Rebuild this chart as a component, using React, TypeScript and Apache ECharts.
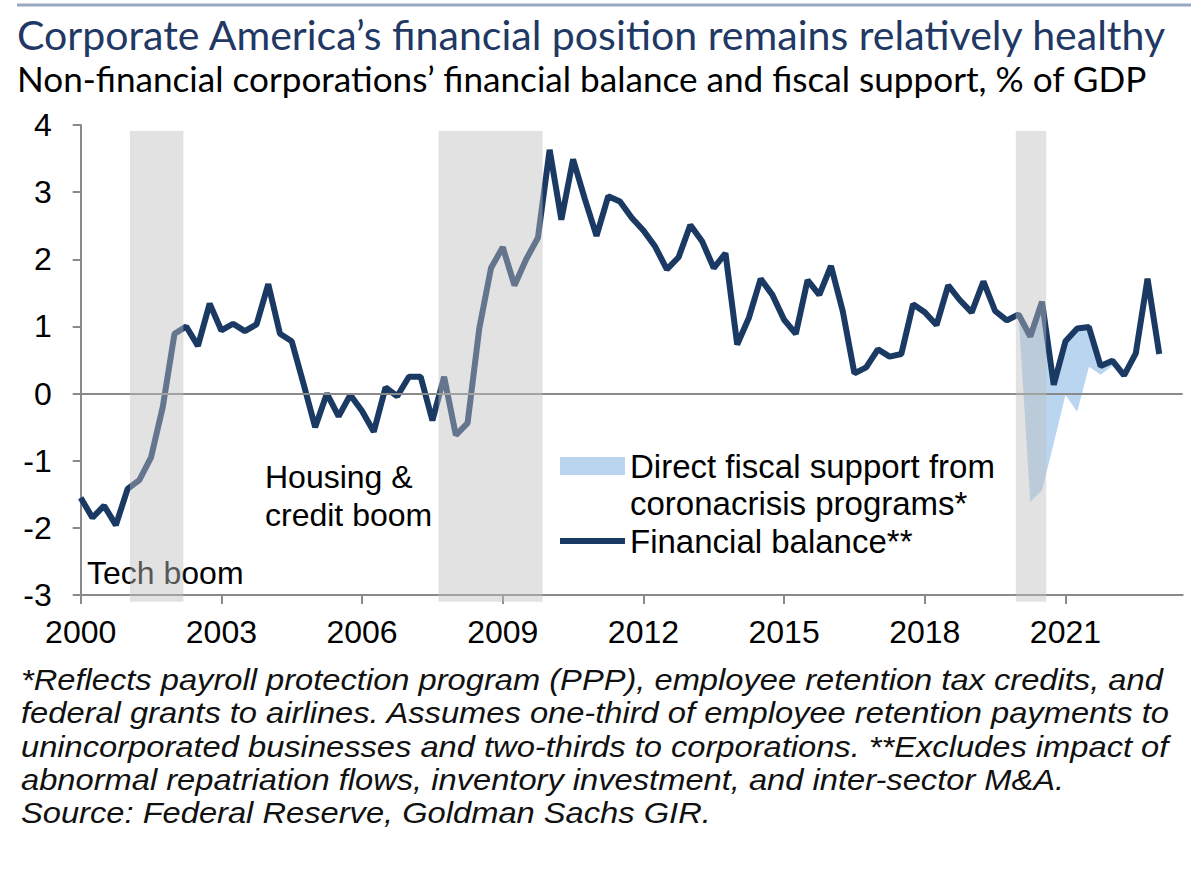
import React, { useEffect, useRef } from "react";
import * as echarts from "echarts";

// ---------- DATA ----------
const START_YEAR = 2000; // first observation: 2000Q1, quarterly
const financialBalance: number[] = [
  -1.55, -1.85, -1.67, -1.96, -1.42, -1.29, -0.95, -0.2, // 2000-2001
  0.89, 1.0, 0.71, 1.34, 0.94, 1.04, 0.93, 1.03, // 2002-2003
  1.63, 0.89, 0.78, 0.15, -0.5, 0.0, -0.34, -0.02, // 2004-2005
  -0.26, -0.57, 0.09, -0.04, 0.25, 0.25, -0.4, 0.25, // 2006-2007
  -0.62, -0.44, 0.97, 1.87, 2.18, 1.61, 2.0, 2.32, // 2008-2009
  3.63, 2.59, 3.49, 2.9, 2.35, 2.94, 2.86, 2.62, // 2010-2011
  2.43, 2.19, 1.85, 2.03, 2.51, 2.27, 1.87, 2.09, // 2012-2013
  0.73, 1.13, 1.71, 1.47, 1.1, 0.89, 1.69, 1.47, // 2014-2015
  1.9, 1.23, 0.3, 0.39, 0.66, 0.55, 0.59, 1.33, // 2016-2017
  1.21, 1.02, 1.61, 1.39, 1.21, 1.67, 1.23, 1.09, // 2018-2019
  1.18, 0.85, 1.37, 0.13, 0.78, 0.97, 0.99, 0.41, // 2020-2021
  0.49, 0.27, 0.6, 1.71, 0.59, // 2022-2023Q1
];

const FISCAL_START_YEAR = 2020; // 2020Q1
const fiscalSupport: number[] = [0, 2.46, 2.81, 0.87, 0.8, 1.24, 0.59, 0.13, 0.08, 0];

const recessionStarts: number[] = [2001.05, 2007.63, 2019.94];
const recessionEnds: number[] = [2002.19, 2009.85, 2020.59];
const RECESSION_TOP = 3.91;
const RECESSION_BOTTOM = -3.1;

const yearTicks: number[] = [2000, 2003, 2006, 2009, 2012, 2015, 2018, 2021];
const X_MIN = 2000;
const X_MAX = 2023.5;
const Y_MIN = -3;
const Y_MAX = 4;

const TITLE = "Corporate America\u2019s financial position remains relatively healthy";
const SUBTITLE = "Non-financial corporations\u2019 financial balance and fiscal support, % of GDP";
const FISCAL_NAME = "Direct fiscal support from\ncoronacrisis programs*";
const BALANCE_NAME = "Financial balance**";
const footnoteLines: string[] = [
  "*Reflects payroll protection program (PPP), employee retention tax credits, and",
  "federal grants to airlines. Assumes one-third of employee retention payments to",
  "unincorporated businesses and two-thirds to corporations. **Excludes impact of",
  "abnormal repatriation flows, inventory investment, and inter-sector M&A.",
  "Source: Federal Reserve, Goldman Sachs GIR.",
];

// ---------- STYLE ----------
const NAVY = "#1A3A64";
const TITLE_BLUE = "#1F3864";
const FISCAL_BLUE = "#B9D5EF";
const AXIS_GRAY = "#8A8A8A";
const SHADE = "rgba(190,190,190,0.45)";
const ARIAL = '"Liberation Sans", Arial, Helvetica, sans-serif';
const HEAD_FONT = 'Lato, "Open Sans", sans-serif';
const FOOT_SIZE = 29;

function fitSize(text: string, font: string, target: number): number {
  const ctx = document.createElement("canvas").getContext("2d");
  if (!ctx) return 30;
  ctx.font = font.replace("SIZE", "100px");
  const w = ctx.measureText(text).width;
  return w > 0 ? (100 * target) / w : 30;
}

const qx = (i: number) => START_YEAR + i / 4;

export default function App() {
  const ref = useRef<HTMLDivElement>(null);

  useEffect(() => {
    if (!ref.current) return;
    const chart = echarts.init(ref.current, null, { renderer: "svg" });

    const titleSize = fitSize(TITLE, `SIZE ${HEAD_FONT}`, 1151);
    const subSize = fitSize(SUBTITLE, `SIZE ${HEAD_FONT}`, 1131);
    const footFit = fitSize(footnoteLines[1], `italic SIZE ${ARIAL}`, 1150);
    const footScaleX = footFit / FOOT_SIZE;

    const fiscalIdx0 = (FISCAL_START_YEAR - START_YEAR) * 4;
    // [x, balance (top edge), balance excluding support (bottom edge)]
    const fiscalData = fiscalSupport.map((s, k) => {
      const b = financialBalance[fiscalIdx0 + k];
      return [qx(fiscalIdx0 + k), b, +(b - s).toFixed(3)];
    });
    const balanceData = financialBalance.map((v, i) => [qx(i), v]);
    const recessionData = recessionStarts.map((s, k) => [
      s,
      recessionEnds[k],
      RECESSION_TOP,
      RECESSION_BOTTOM,
    ]);

    const graphics: any[] = [
      {
        type: "line",
        shape: { x1: 17, y1: 5, x2: 1191, y2: 5 },
        style: { stroke: "#97A8BF", lineWidth: 3 },
        silent: true,
      },
      {
        type: "text",
        x: 17,
        y: 34,
        style: {
          text: TITLE,
          fontFamily: HEAD_FONT,
          fontSize: titleSize,
          fill: TITLE_BLUE,
          align: "left",
          verticalAlign: "middle",
        },
      },
      {
        type: "text",
        x: 17,
        y: 78,
        style: {
          text: SUBTITLE,
          fontFamily: HEAD_FONT,
          fontSize: subSize,
          fill: "#000",
          align: "left",
          verticalAlign: "middle",
        },
      },
      {
        type: "text",
        x: 87,
        y: 573,
        style: { text: "Tech boom", fontFamily: ARIAL, fontSize: 32, fill: "#000", align: "left", verticalAlign: "middle" },
      },
      {
        type: "text",
        x: 265,
        y: 458,
        style: {
          text: "Housing &\ncredit boom",
          fontFamily: ARIAL,
          fontSize: 32,
          lineHeight: 38,
          fill: "#000",
          align: "left",
          verticalAlign: "top",
        },
      },
      {
        type: "text",
        x: 21,
        y: 663.5,
        scaleX: footScaleX,
        style: {
          text: footnoteLines.join("\n"),
          fontFamily: ARIAL,
          fontStyle: "italic",
          fontSize: FOOT_SIZE,
          lineHeight: 33.3,
          fill: "#111",
          align: "left",
          verticalAlign: "top",
        },
      },
    ];

    const option: any = {
      animation: false,
      backgroundColor: "#fff",
      textStyle: { fontFamily: ARIAL },
      grid: { left: 80.7, right: 19.3, top: 125, bottom: 280, containLabel: false },
      xAxis: {
        type: "value",
        min: X_MIN,
        max: X_MAX,
        axisLine: { onZero: false, lineStyle: { color: AXIS_GRAY, width: 2 } },
        axisTick: { customValues: yearTicks, length: 9, lineStyle: { color: AXIS_GRAY, width: 2 } },
        axisLabel: {
          customValues: yearTicks,
          formatter: (v: number) => String(v),
          fontSize: 32,
          color: "#000",
          margin: 21,
          fontFamily: ARIAL,
        },
        splitLine: { show: false },
      },
      yAxis: {
        type: "value",
        min: Y_MIN,
        max: Y_MAX,
        interval: 1,
        axisLine: { show: true, onZero: false, lineStyle: { color: AXIS_GRAY, width: 2 } },
        axisTick: { show: true, length: 8, lineStyle: { color: AXIS_GRAY, width: 2 } },
        axisLabel: { fontSize: 32, color: "#000", margin: 29, fontFamily: ARIAL },
        splitLine: { show: false },
      },
      legend: {
        orient: "vertical",
        left: 557,
        top: 410.5,
        padding: 0,
        itemGap: 1,
        itemWidth: 65,
        itemHeight: 18,
        selectedMode: false,
        lineStyle: { width: "inherit" },
        textStyle: { fontFamily: ARIAL, fontSize: 33, color: "#000", lineHeight: 37 },
        formatter: (name: string) => (name === FISCAL_NAME ? "\n" + name : name),
        data: [
          { name: FISCAL_NAME, icon: "rect" },
          { name: BALANCE_NAME, itemStyle: { opacity: 0 } },
        ],
      },
      series: [
        {
          name: FISCAL_NAME,
          type: "custom",
          data: fiscalData,
          encode: { x: 0, y: [1, 2] },
          itemStyle: { color: FISCAL_BLUE },
          silent: true,
          z: 2,
          renderItem: (params: any, api: any) => {
            if (params.dataIndexInside !== 0) return null;
            const n = fiscalData.length;
            const top: number[][] = [];
            const bottom: number[][] = [];
            for (let j = 0; j < n; j++) {
              top.push(api.coord([api.value(0, j), api.value(1, j)]));
              bottom.push(api.coord([api.value(0, j), api.value(2, j)]));
            }
            return {
              type: "polygon",
              shape: { points: top.concat(bottom.reverse()) },
              style: { fill: FISCAL_BLUE },
            };
          },
        },
        {
          name: BALANCE_NAME,
          type: "line",
          data: balanceData,
          symbol: "none",
          itemStyle: { color: NAVY },
          lineStyle: { color: NAVY, width: 6 },
          silent: true,
          z: 3,
          markLine: {
            silent: true,
            symbol: "none",
            label: { show: false },
            lineStyle: { color: AXIS_GRAY, width: 2, type: "solid" },
            data: [{ yAxis: 0 }],
          },
        },
        {
          name: "recessions",
          type: "custom",
          data: recessionData,
          encode: { x: [0, 1], y: [2, 3] },
          clip: false,
          silent: true,
          z: 10,
          renderItem: (_params: any, api: any) => {
            const p1 = api.coord([api.value(0), api.value(2)]);
            const p2 = api.coord([api.value(1), api.value(3)]);
            return {
              type: "rect",
              shape: { x: p1[0], y: p1[1], width: p2[0] - p1[0], height: p2[1] - p1[1] },
              style: { fill: SHADE },
            };
          },
        },
      ],
      graphic: graphics,
    };

    chart.setOption(option);
    return () => chart.dispose();
  }, []);

  return (
    <div
      ref={ref}
      style={{ position: "fixed", left: 0, top: 0, width: 1202, height: 875, background: "#fff" }}
    />
  );
}
